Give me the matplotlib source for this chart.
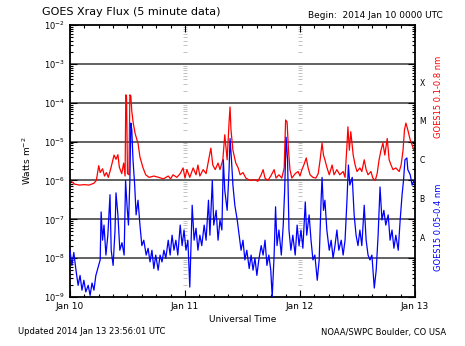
import numpy as np
import matplotlib.pyplot as plt
from matplotlib.ticker import LogLocator, NullFormatter, MultipleLocator

# GOES15 long channel (0.1-0.8 nm), hours since 2014 Jan 10 00:00 UTC
red_t = [0, 0.5, 1.0, 2.0, 3.0, 4.0, 5.0, 5.5, 6.0, 6.3,
         6.8, 7.2, 7.6, 8.0, 8.5, 9.2, 9.6, 10.0, 10.3, 10.8,
         11.2, 11.5, 11.65, 11.8, 12.0, 12.3, 12.5, 12.7, 12.9, 13.2,
         13.6, 14.2, 14.6, 15.2, 15.8, 16.5, 17.5, 18.5, 19.5, 20.5,
         21.0, 21.5, 22.3, 23.0, 23.6, 24.0, 24.4, 25.0, 25.7, 26.3,
         26.7, 27.1, 27.8, 28.4, 29.4, 29.8, 30.3, 30.9, 31.3, 31.9,
         32.3, 32.8, 33.2, 33.4, 33.6, 34.0, 34.6, 35.1, 35.5, 36.1,
         36.7, 37.6, 38.6, 39.2, 39.9, 40.3, 40.7, 41.3, 41.9, 42.6,
         43.0, 43.6, 44.2, 44.7, 45.0, 45.3, 45.6, 45.9, 46.3, 47.0,
         47.6, 48.0, 48.4, 48.8, 49.3, 49.7, 50.1, 50.7, 51.3, 51.8,
         52.2, 52.6, 52.9, 53.2, 53.6, 54.1, 54.7, 55.1, 55.7, 56.3,
         57.0, 57.4, 57.8, 58.0, 58.3, 58.6, 59.1, 59.5, 59.9, 60.5,
         60.9, 61.4, 61.8, 62.2, 62.8, 63.2, 63.7, 64.1, 64.5, 64.9,
         65.3, 65.7, 66.2, 66.6, 67.0, 67.4, 68.0, 68.7, 69.1, 69.5,
         69.8, 70.1, 70.5, 71.0, 71.4, 71.8]
red_f = [1.0e-6, 9.0e-7, 8.0e-7, 7.6e-7, 7.8e-7, 7.6e-7, 8.5e-7, 1.0e-6, 2.4e-6, 1.6e-6,
         2.0e-6, 1.3e-6, 1.6e-6, 1.2e-6, 2.0e-6, 4.5e-6, 3.5e-6, 4.6e-6, 2.2e-6, 1.5e-6,
         2.8e-6, 1.3e-6, 1.6e-4, 1.4e-4, 1.5e-6, 1.4e-6, 1.6e-4, 1.5e-4, 6.0e-5, 3.0e-5,
         1.6e-5, 9.0e-6, 4.0e-6, 2.2e-6, 1.4e-6, 1.2e-6, 1.3e-6, 1.2e-6, 1.1e-6, 1.3e-6,
         1.1e-6, 1.4e-6, 1.2e-6, 1.5e-6, 2.1e-6, 1.15e-6, 1.9e-6, 1.2e-6, 2.1e-6, 1.4e-6,
         2.5e-6, 1.3e-6, 1.9e-6, 1.5e-6, 6.8e-6, 2.5e-6, 1.9e-6, 2.8e-6, 1.9e-6, 3.4e-6,
         1.5e-5, 3.4e-6, 3.2e-5, 7.8e-5, 2.0e-5, 6.0e-6, 2.8e-6, 2.1e-6, 1.4e-6, 1.6e-6,
         1.15e-6, 1.0e-6, 1.05e-6, 9.5e-7, 1.4e-6, 1.9e-6, 1.15e-6, 1.0e-6, 1.3e-6, 1.9e-6,
         1.15e-6, 1.4e-6, 1.15e-6, 2.1e-6, 3.6e-5, 3.2e-5, 6.0e-6, 1.9e-6, 1.15e-6, 1.5e-6,
         1.7e-6, 1.3e-6, 1.9e-6, 2.5e-6, 3.8e-6, 2.1e-6, 1.4e-6, 1.2e-6, 1.15e-6, 1.5e-6,
         3.4e-6, 9.2e-6, 4.5e-6, 3.4e-6, 2.2e-6, 1.4e-6, 2.5e-6, 1.4e-6, 1.9e-6, 1.4e-6,
         1.7e-6, 1.2e-6, 8.1e-6, 2.4e-5, 6.0e-6, 1.8e-5, 4.5e-6, 2.5e-6, 1.7e-6, 2.1e-6,
         1.7e-6, 3.4e-6, 1.9e-6, 1.4e-6, 1.7e-6, 1.15e-6, 1.0e-6, 1.5e-6, 3.4e-6, 6.0e-6,
         9.2e-6, 4.5e-6, 1.2e-5, 3.4e-6, 2.5e-6, 1.9e-6, 2.1e-6, 1.7e-6, 2.5e-6, 6.0e-6,
         2.0e-5, 3.0e-5, 2.0e-5, 1.1e-5, 8.1e-6, 6.0e-6]

# GOES15 short channel (0.05-0.4 nm)
blue_t = [0, 0.4, 0.8, 1.25, 1.7, 2.1, 2.5, 2.9, 3.3, 3.8,
          4.2, 4.6, 5.0, 5.4, 5.8, 6.3, 6.5, 6.8, 7.1, 7.5,
          7.9, 8.35, 8.6, 9.0, 9.4, 9.6, 10.0, 10.4, 10.85, 11.3,
          11.6, 11.9, 12.2, 12.5, 12.7, 12.9, 13.15, 13.5, 13.8, 14.2,
          14.6, 15.0, 15.4, 15.9, 16.3, 16.7, 17.1, 17.5, 17.9, 18.4,
          18.8, 19.2, 19.6, 20.0, 20.5, 20.9, 21.3, 21.7, 22.1, 22.5,
          23.0, 23.4, 23.8, 24.2, 24.6, 25.0, 25.5, 25.9, 26.3, 26.7,
          27.1, 27.5, 28.0, 28.4, 28.9, 29.2, 29.7, 30.0, 30.5, 30.9,
          31.3, 31.7, 32.0, 32.3, 32.8, 33.2, 33.4, 33.7, 34.0, 34.4,
          34.9, 35.3, 35.7, 36.1, 36.5, 36.9, 37.4, 37.8, 38.2, 38.6,
          39.0, 39.4, 39.9, 40.3, 40.7, 41.1, 41.5, 41.9, 42.2, 42.6,
          42.9, 43.2, 43.6, 44.1, 44.5, 44.8, 45.1, 45.4, 45.7, 46.1,
          46.5, 47.0, 47.4, 47.8, 48.2, 48.6, 49.1, 49.4, 49.9, 50.3,
          50.7, 51.1, 51.6, 52.0, 52.4, 52.6, 52.9, 53.2, 53.6, 54.1,
          54.5, 54.9, 55.3, 55.7, 56.1, 56.6, 57.0, 57.4, 57.8, 58.1,
          58.4, 58.9, 59.3, 59.7, 60.1, 60.5, 60.9, 61.4, 61.8, 62.2,
          62.6, 63.0, 63.5, 63.9, 64.3, 64.7, 65.1, 65.5, 65.9, 66.4,
          66.8, 67.2, 67.6, 68.0, 68.5, 68.9, 69.3, 69.6, 69.9, 70.3,
          70.5, 71.0, 71.4, 71.8]
blue_f = [1.6e-8, 6.5e-9, 1.4e-8, 4.9e-9, 2.0e-9, 3.6e-9, 1.5e-9, 2.7e-9, 1.35e-9, 2.0e-9,
          1.1e-9, 2.3e-9, 1.5e-9, 3.6e-9, 5.4e-9, 9.0e-9, 1.55e-7, 2.9e-8, 7.1e-8, 1.2e-8,
          3.9e-8, 4.3e-7, 1.6e-8, 6.5e-9, 5.3e-8, 4.8e-7, 1.3e-7, 1.6e-8, 2.5e-8, 1.2e-8,
          1.0e-6, 2.3e-7, 7.1e-8, 1.0e-6, 3.0e-5, 2.0e-5, 3.4e-6, 7.6e-7, 1.3e-7, 3.1e-7,
          7.1e-8, 2.1e-8, 2.9e-8, 1.2e-8, 1.8e-8, 8.0e-9, 1.6e-8, 5.4e-9, 1.2e-8, 4.9e-9,
          1.2e-8, 8.0e-9, 1.6e-8, 1.0e-8, 2.9e-8, 1.2e-8, 3.9e-8, 1.6e-8, 2.9e-8, 1.2e-8,
          7.1e-8, 2.1e-8, 5.3e-8, 1.6e-8, 2.9e-8, 1.8e-9, 2.3e-7, 2.9e-8, 5.9e-8, 1.6e-8,
          3.9e-8, 2.1e-8, 7.1e-8, 2.9e-8, 3.1e-7, 3.9e-8, 1.0e-6, 7.1e-8, 1.7e-7, 2.9e-8,
          9.6e-8, 5.3e-8, 3.4e-6, 5.6e-7, 1.7e-7, 1.9e-6, 1.2e-5, 3.4e-6, 7.6e-7, 2.3e-7,
          9.6e-8, 3.9e-8, 1.6e-8, 2.9e-8, 9.0e-9, 1.6e-8, 5.4e-9, 1.2e-8, 4.9e-9, 1.0e-8,
          3.6e-9, 9.0e-9, 2.1e-8, 1.2e-8, 2.9e-8, 6.5e-9, 1.2e-8, 4.9e-9, 1.0e-9, 1.2e-8,
          2.1e-7, 2.1e-8, 5.3e-8, 1.2e-8, 7.1e-8, 5.6e-7, 1.3e-5, 3.4e-6, 5.3e-8, 1.6e-8,
          3.9e-8, 1.2e-8, 7.1e-8, 2.1e-8, 5.3e-8, 1.8e-8, 2.8e-7, 3.9e-8, 1.3e-7, 2.9e-8,
          9.0e-9, 1.2e-8, 2.7e-9, 9.0e-9, 3.1e-7, 1.2e-6, 1.7e-7, 3.1e-7, 5.3e-8, 1.6e-8,
          2.9e-8, 1.0e-8, 2.1e-8, 5.3e-8, 1.6e-8, 2.9e-8, 1.2e-8, 2.9e-8, 3.1e-7, 2.5e-6,
          7.6e-7, 1.2e-6, 1.3e-7, 3.9e-8, 2.1e-8, 5.3e-8, 2.1e-8, 2.3e-7, 2.9e-8, 1.2e-8,
          9.0e-9, 1.2e-8, 1.7e-9, 4.9e-9, 3.9e-8, 6.8e-7, 9.6e-8, 1.7e-7, 7.1e-8, 1.3e-7,
          2.9e-8, 5.3e-8, 1.8e-8, 3.9e-8, 1.6e-8, 9.6e-8, 4.3e-7, 1.0e-6, 3.4e-6, 3.8e-6,
          1.9e-6, 1.4e-6, 7.6e-7, 1.0e-6]

day_ticks = [0, 24, 48, 72]
day_labels = ['Jan 10', 'Jan 11', 'Jan 12', 'Jan 13']
flare_classes = ['X', 'M', 'C', 'B', 'A']

fig = plt.figure(figsize=(4.65, 3.46), dpi=100)
ax = fig.add_axes([0.1505, 0.1416, 0.742, 0.786])

# decade lines
for e in range(-8, -2):
    ax.axhline(10.0 ** e, color='#555555', lw=1.3, zorder=1)

# minor log marks along the day boundaries
minor_pos = [m * 10.0 ** e for e in range(-9, -2) for m in range(2, 10)]
for d in day_ticks[1:3]:
    ax.plot([d] * len(minor_pos), minor_pos, ls='none', marker='_',
            ms=3, mew=0.5, color='#aaaaaa', zorder=1)

ax.plot(red_t, red_f, color='#ff0000', lw=0.9, zorder=2)
ax.plot(blue_t, blue_f, color='#0000ff', lw=0.9, zorder=3)

ax.set_yscale('log')
ax.set_ylim(1e-9, 1e-2)
ax.set_xlim(0, 72)
ax.set_xticks(day_ticks)
ax.set_xticklabels(day_labels, fontsize=6.5)
ax.xaxis.set_minor_locator(MultipleLocator(3))
ax.yaxis.set_major_locator(LogLocator(base=10, numticks=20))
ax.yaxis.set_minor_locator(LogLocator(base=10, subs=np.arange(2, 10), numticks=20))
ax.yaxis.set_minor_formatter(NullFormatter())
ax.tick_params(axis='y', labelsize=6)
ax.tick_params(which='both', direction='in', top=True, right=True, width=0.8)
ax.tick_params(which='major', length=5)
ax.tick_params(which='minor', length=2.5)
for s in ax.spines.values():
    s.set_linewidth(1.3)

ax.set_ylabel('Watts m$^{-2}$', fontsize=6.5, labelpad=8)
ax.set_xlabel('Universal Time', fontsize=6.5, labelpad=3)

# flare class letters in the middle of each decade
for i, c in enumerate(flare_classes):
    fig.text(0.908, 1 - (83 + 38.9 * i) / 346, c, fontsize=5.5,
             ha='center', va='center')

fig.text(0.942, 1 - 97 / 346, 'GOES15 0.1-0.8 nm', color='#ff0000',
         rotation=90, fontsize=6, ha='center', va='center')
fig.text(0.942, 1 - 227 / 346, 'GOES15 0.05-0.4 nm', color='#0000ff',
         rotation=90, fontsize=6, ha='center', va='center')

fig.text(0.09, 1 - 12 / 346, 'GOES Xray Flux (5 minute data)', fontsize=8,
         va='center')
fig.text(0.663, 1 - 16 / 346, 'Begin:  2014 Jan 10 0000 UTC', fontsize=6.5,
         va='center')
fig.text(0.039, 1 - 332 / 346, 'Updated 2014 Jan 13 23:56:01 UTC', fontsize=6,
         va='center')
fig.text(0.69, 1 - 332 / 346, 'NOAA/SWPC Boulder, CO USA', fontsize=6,
         va='center')

fig.savefig('out.png', dpi=100)
